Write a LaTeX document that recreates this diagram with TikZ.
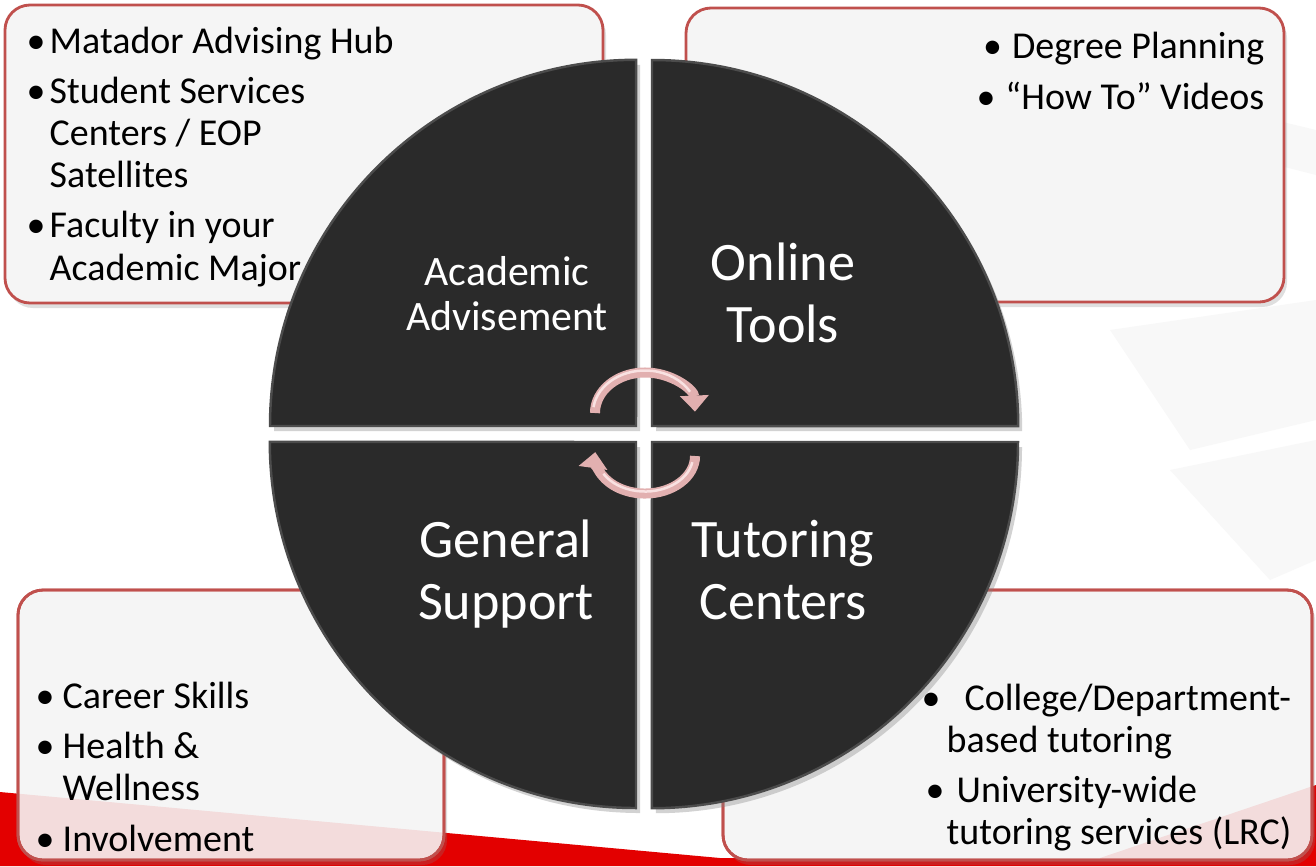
\documentclass[tikz,border=0pt]{standalone}
\usepackage{fontspec}
\setmainfont{Carlito}
\usetikzlibrary{arrows.meta,shadows}

\definecolor{boxred}{HTML}{C0504D}
\definecolor{boxfill}{HTML}{F5F5F5}
\definecolor{bandred}{HTML}{E30000}
\definecolor{quadfill}{HTML}{2A2A2A}
\definecolor{quadedge}{HTML}{4C4C4C}
\definecolor{arrpink}{HTML}{E2B0B0}
\definecolor{arrlight}{HTML}{F9E2E2}
\definecolor{bgshape}{HTML}{F8F8F8}

\newcommand\bul[1]{\makebox[#1][l]{\textbullet}}

\tikzset{
  infobox/.style={draw=boxred, line width=0.8pt, fill=boxfill,
    rounded corners=0.25cm,
    drop shadow={opacity=0.25, shadow xshift=0.03cm, shadow yshift=-0.05cm}},
  quadrant/.style={fill=quadfill, draw=quadedge, line width=0.7pt,
    drop shadow={opacity=0.35, shadow xshift=0.04cm, shadow yshift=-0.05cm}},
  boxtext/.style={align=left, inner sep=0pt, font=\fontsize{10.8pt}{11.95pt}\selectfont},
  bigtext/.style={align=center, inner sep=0pt, text=white, font=\fontsize{15.4pt}{17.6pt}\selectfont},
  cycarrow/.style={draw=arrpink, line width=0.1cm, -{Triangle[width=0.28cm, length=0.16cm]}},
  cycshine/.style={draw=arrlight, line width=0.025cm}
}

\begin{document}
\begin{tikzpicture}[x=0.01cm, y=-0.01cm]
  % page and background
  \fill[white] (0,0) rectangle (1316,866);
  \useasboundingbox (0,0) rectangle (1316,866);
  \fill[bgshape] (1040,120) -- (1170,95) -- (1316,130) -- (1316,175) -- (1180,140) -- (1060,165) -- cycle;
  \fill[bgshape] (1110,330) -- (1316,300) -- (1316,420) -- (1190,450) -- cycle;
  \fill[bgshape] (1170,470) -- (1316,440) -- (1316,560) -- (1270,580) -- cycle;
  \fill[bandred] (0,792) -- (720,858) -- (1100,858) -- (1316,785) -- (1316,866) -- (0,866) -- cycle;

  % text boxes
  \draw[infobox] (5,5) rectangle (603,303);
  \draw[infobox] (686,8) rectangle (1284,302);
  \draw[infobox] (18,590) rectangle (444,860);
  \draw[infobox] (723,590) rectangle (1312,860);
  % red band seen faintly through the lower boxes
  \begin{scope}
    \clip[rounded corners=0.25cm] (18,590) rectangle (444,860);
    \fill[bandred, opacity=0.1] (0,792) -- (720,858) -- (720,866) -- (0,866) -- cycle;
  \end{scope}
  \begin{scope}
    \clip[rounded corners=0.25cm] (723,590) rectangle (1312,860);
    \fill[bandred, opacity=0.1] (1100,858) -- (1316,785) -- (1316,866) -- (1100,866) -- cycle;
  \end{scope}
  \draw[boxred, line width=0.8pt, rounded corners=0.25cm] (18,590) rectangle (444,860);
  \draw[boxred, line width=0.8pt, rounded corners=0.25cm] (723,590) rectangle (1312,860);

  % the four quarters
  \draw[quadrant] (636,426) -- (270,426) arc[start angle=180, end angle=90, radius=3.66cm] -- cycle;
  \draw[quadrant] (652,426) -- (652,60) arc[start angle=90, end angle=0, radius=3.66cm] -- cycle;
  \draw[quadrant] (652,442) -- (1018,442) arc[start angle=0, end angle=-90, radius=3.66cm] -- cycle;
  \draw[quadrant] (636,442) -- (636,808) arc[start angle=-90, end angle=-180, radius=3.66cm] -- cycle;

  % box contents (anchored at the baseline of the last line)
  \node[boxtext, anchor=base west] (advList) at (26,280)
    {\bul{0.23cm}Matador Advising Hub\\[2.3pt]
     \bul{0.23cm}Student Services\\
     \hspace*{0.23cm}Centers / EOP\\
     \hspace*{0.23cm}Satellites\\[2.3pt]
     \bul{0.23cm}Faculty in your\\
     \hspace*{0.23cm}Academic Major};
  \node[boxtext, align=right, anchor=base east] (onlineList) at (1265,109)
    {\textbullet\hspace{0.1cm}Degree Planning\\[2.5pt]
     \textbullet\hspace{0.1cm}“How To” Videos};
  \node[boxtext, anchor=base west] (supportList) at (35,851)
    {\bul{0.27cm}Career Skills\\[2.5pt]
     \bul{0.27cm}Health \&\\
     \hspace*{0.27cm}Wellness\\[2.3pt]
     \bul{0.27cm}Involvement};
  \node[boxtext, anchor=base west] (tutorList) at (921,844)
    {\bul{0.43cm}College/Department-\\
     \hspace*{0.25cm}based tutoring\\[2pt]
     \hspace*{0.04cm}\bul{0.31cm}University-wide\\
     \hspace*{0.25cm}tutoring services (LRC)};

  % quarter labels
  \node[bigtext, font=\fontsize{11.9pt}{12.8pt}\selectfont, anchor=base] (advLabel) at (507,330)
    {Academic\\Advisement};
  \node[bigtext, anchor=base] (onlineLabel) at (783,342) {Online\\Tools};
  \node[bigtext, anchor=base] (supportLabel) at (506,619) {General\\Support};
  \node[bigtext, anchor=base] (tutorLabel) at (783,619) {Tutoring\\Centers};

  % cycle arrows
  \coordinate (cycTopC) at (645,413);
  \coordinate (cycBotC) at (645,456);
  \draw[cycarrow] (cycTopC) ++(180:0.5cm and 0.405cm)
    arc[start angle=180, end angle=2, x radius=0.5cm, y radius=0.405cm];
  \draw[cycshine] (cycTopC) ++(172:0.52cm and 0.425cm)
    arc[start angle=172, end angle=30, x radius=0.52cm, y radius=0.425cm];
  \draw[cycarrow] (cycBotC) ++(0:0.5cm and 0.375cm)
    arc[start angle=0, end angle=-186, x radius=0.5cm, y radius=0.375cm];
  \draw[cycshine] (cycBotC) ++(-10:0.48cm and 0.355cm)
    arc[start angle=-10, end angle=-150, x radius=0.48cm, y radius=0.355cm];
\end{tikzpicture}
\end{document}
